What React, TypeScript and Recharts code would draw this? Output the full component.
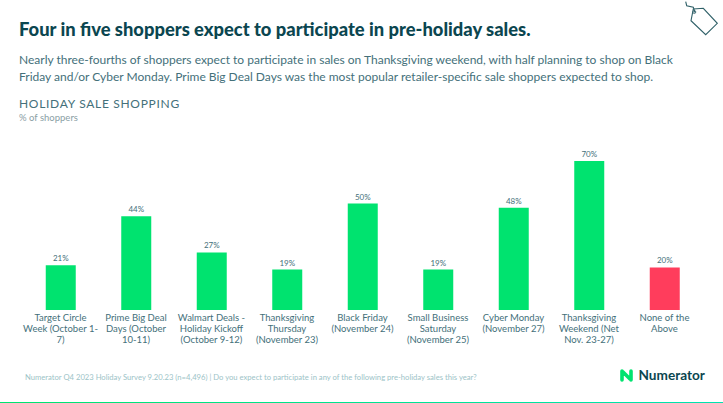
import { BarChart, Bar, XAxis, YAxis, Cell, LabelList } from 'recharts'

const categories = [
  'Target Circle\nWeek (October 1-\n7)',
  'Prime Big Deal\nDays (October\n10-11)',
  'Walmart Deals -\nHoliday Kickoff\n(October 9-12)',
  'Thanksgiving\nThursday\n(November 23)',
  'Black Friday\n(November 24)',
  'Small Business\nSaturday\n(November 25)',
  'Cyber Monday\n(November 27)',
  'Thanksgiving\nWeekend (Net\nNov. 23-27)',
  'None of the\nAbove',
]
const shoppers = [21, 44, 27, 19, 50, 19, 48, 70, 20]
const barColors = ['#00e36f', '#00e36f', '#00e36f', '#00e36f', '#00e36f', '#00e36f', '#00e36f', '#00e36f', '#ff3d5c']

const chartData = categories.map((name, i) => ({ name, value: shoppers[i] }))

const FONT = 'Lato, "Open Sans", sans-serif'
const DARK = '#0b4650'
const TEAL = '#44707a'

function CategoryTick({ x, y, payload }: any) {
  const lines = String(payload.value).split('\n')
  return (
    <text x={x} y={y} textAnchor="middle" fontFamily={FONT} fontSize={9.5} fill={TEAL}>
      {lines.map((line, i) => (
        <tspan key={i} x={x} dy={i === 0 ? 5 : 11}>{line}</tspan>
      ))}
    </text>
  )
}

function Logo() {
  return (
    <svg width={723} height={403} style={{ position: 'absolute', left: 0, top: 0, pointerEvents: 'none' }}>
      <defs>
        <linearGradient id="rule" x1="0" x2="1" y1="0" y2="0">
          <stop offset="0" stopColor="#00e36f" />
          <stop offset="1" stopColor="#00e3b0" />
        </linearGradient>
      </defs>
      <rect x={0} y={402} width={723} height={1} fill="url(#rule)" />
      {/* price tag */}
      <path d="M693.3 9 L703.3 8.3 L717.3 23.3 L705.7 34.7 L691 20.7 Z" fill="none" stroke="#2f6068" strokeWidth={1.1} />
      <path d="M685.7 1.7 L686.7 5.7 L693.3 7.3 L695 12.7" fill="none" stroke="#2f6068" strokeWidth={1.1} />
      <circle cx={694.3} cy={12} r={1.5} fill="none" stroke="#2f6068" strokeWidth={0.8} />
      {/* logo mark */}
      <path d="M622 371 L622 380 M631 371 L631 380 M623 372 L630 379" fill="none" stroke="#00e36f" strokeWidth={3.6} strokeLinecap="round" />
      <text x={638.5} y={380} fontFamily={FONT} fontSize={13.6} fontWeight={700} fill={DARK}>Numerator</text>
    </svg>
  )
}

export default function App() {
  return (
    <div style={{ position: 'absolute', left: 0, top: 0, width: 723, height: 403, overflow: 'hidden', background: '#fff', fontFamily: FONT }}>
      <div style={{ position: 'absolute', left: 19, top: 18, fontSize: 18.35, fontWeight: 900, color: DARK, whiteSpace: 'nowrap' }}>
        Four in five shoppers expect to participate in pre-holiday sales.
      </div>
      <div style={{ position: 'absolute', left: 19, top: 50.5, fontSize: 12, lineHeight: '17px', color: TEAL, whiteSpace: 'nowrap' }}>
        Nearly three-fourths of shoppers expect to participate in sales on Thanksgiving weekend, with half planning to shop on Black<br />
        Friday and/or Cyber Monday. Prime Big Deal Days was the most popular retailer-specific sale shoppers expected to shop.
      </div>
      <div style={{ position: 'absolute', left: 19, top: 96, fontSize: 12, letterSpacing: 0.7, color: TEAL, whiteSpace: 'nowrap' }}>
        HOLIDAY SALE SHOPPING
      </div>
      <div style={{ position: 'absolute', left: 19, top: 112, fontSize: 9.5, color: '#8aa0a5', whiteSpace: 'nowrap' }}>
        % of shoppers
      </div>
      <BarChart
        width={723}
        height={403}
        data={chartData}
        margin={{ top: 139.6, right: 20.75, bottom: 0, left: 22.75 }}
        style={{ position: 'absolute', left: 0, top: 0 }}
      >
        <YAxis hide domain={[0, 80]} />
        <XAxis dataKey="name" interval={0} height={93} axisLine={false} tickLine={false} tickMargin={0} tick={<CategoryTick />} />
        <Bar dataKey="value" barSize={30} isAnimationActive={false}>
          {chartData.map((d, i) => (
            <Cell key={d.name} fill={barColors[i]} />
          ))}
          <LabelList dataKey="value" position="top" offset={4} formatter={(v: any) => `${v}%`} fontFamily={FONT} fontSize={8} fill={TEAL} />
        </Bar>
      </BarChart>
      <div style={{ position: 'absolute', left: 25, top: 372, fontSize: 7.65, color: '#9cc3c7', whiteSpace: 'nowrap' }}>
        Numerator Q4 2023 Holiday Survey 9.20.23 (n=4,496) | Do you expect to participate in any of the following pre-holiday sales this year?
      </div>
      <Logo />
    </div>
  )
}
